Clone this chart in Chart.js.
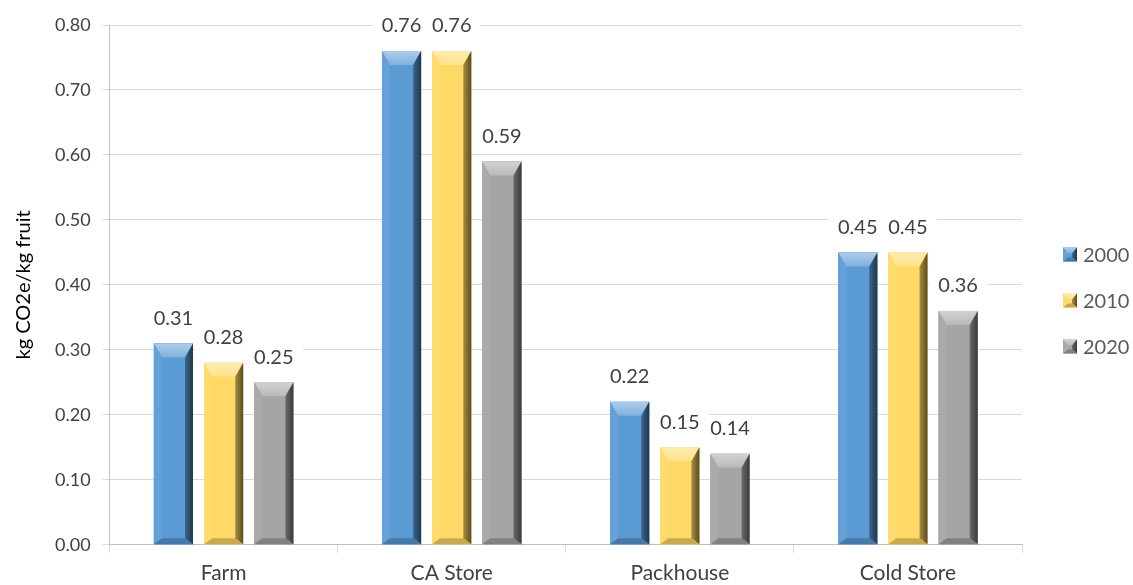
<!DOCTYPE html>
<html>
<head>
<meta charset="utf-8">
<script src="https://cdn.jsdelivr.net/npm/chart.js@4"></script>
<style>
    html, body { margin: 0; padding: 0; background: #ffffff; }
    #wrap { width: 1133px; height: 585px; }
</style>
</head>
<body>
<div id="wrap"><canvas id="co2-chart"></canvas></div>
<script>
const stages = ['Farm', 'CA Store', 'Packhouse', 'Cold Store']
const years = ['2000', '2010', '2020']
const values2000 = [0.31, 0.76, 0.22, 0.45]
const values2010 = [0.28, 0.76, 0.15, 0.45]
const values2020 = [0.25, 0.59, 0.14, 0.36]
const yMax = 0.8
const yStep = 0.1

const faceColors = ['#5b9bd5', '#ffd965', '#a5a5a5']
const fontFamily = "Lato, 'Open Sans', sans-serif"

// mix a hex colour toward white (f > 0) or black (f < 0)
function shade(hex, f) {
    const n = parseInt(hex.slice(1), 16)
    const mix = c => f >= 0 ? Math.round(c + (255 - c) * f) : Math.round(c * (1 + f))
    return `rgb(${mix(n >> 16)},${mix((n >> 8) & 255)},${mix(n & 255)})`
}

function poly(ctx, pts, fill) {
    ctx.beginPath()
    ctx.moveTo(pts[0][0], pts[0][1])
    for (let i = 1; i < pts.length; i++) ctx.lineTo(pts[i][0], pts[i][1])
    ctx.closePath()
    ctx.fillStyle = fill
    ctx.fill()
}

// angled bevel painted over a plain rectangle
function drawBevel(ctx, l, t, r, b, color, s, d, bd) {
    ctx.fillStyle = color
    ctx.fillRect(l, t, r - l, b - t)

    const top = ctx.createLinearGradient(0, t, 0, t + d)
    top.addColorStop(0, shade(color, 0.5))
    top.addColorStop(1, shade(color, 0.22))
    poly(ctx, [[l, t], [r, t], [r - s, t + d], [l + s, t + d]], top)

    poly(ctx, [[l, t], [l + s, t + d], [l + s, b - bd], [l, b]], shade(color, 0.06))

    const right = ctx.createLinearGradient(r - s, 0, r, 0)
    right.addColorStop(0, shade(color, -0.35))
    right.addColorStop(1, shade(color, -0.65))
    poly(ctx, [[r, t], [r, b], [r - s, b - bd], [r - s, t + d]], right)

    poly(ctx, [[l, b], [l + s, b - bd], [r - s, b - bd], [r, b]], shade(color, -0.22))
}

const bevelPlugin = {
    id: 'bevel',
    afterDatasetsDraw(chart) {
        const ctx = chart.ctx
        ctx.save()
        chart.data.datasets.forEach((ds, i) => {
            chart.getDatasetMeta(i).data.forEach(bar => {
                const { x, y, base, width } = bar.getProps(['x', 'y', 'base', 'width'], true)
                const h = base - y
                drawBevel(ctx, x - width / 2, y, x + width / 2, base, faceColors[i],
                    Math.min(8, width / 4), Math.min(14, h / 3), Math.min(6, h / 5))
            })
        })
        ctx.restore()
    }
}

const valueLabelPlugin = {
    id: 'valueLabels',
    afterDatasetsDraw(chart) {
        const ctx = chart.ctx
        ctx.save()
        ctx.font = `20px ${fontFamily}`
        ctx.textAlign = 'center'
        ctx.textBaseline = 'middle'
        chart.data.datasets.forEach((ds, i) => {
            chart.getDatasetMeta(i).data.forEach((bar, j) => {
                const text = ds.data[j].toFixed(2)
                const cy = bar.y - 25
                const w = ctx.measureText(text).width + 18
                ctx.fillStyle = '#ffffff'
                ctx.fillRect(bar.x - w / 2, cy - 12, w, 24)
                ctx.fillStyle = '#404040'
                ctx.fillText(text, bar.x, cy)
            })
        })
        ctx.restore()
    }
}

// legend at the right with small bevelled swatches
const sideLegendPlugin = {
    id: 'sideLegend',
    afterDraw(chart) {
        const ctx = chart.ctx
        const x = chart.chartArea.right + 41
        const midY = chart.height / 2 + 8
        ctx.save()
        ctx.font = `20px ${fontFamily}`
        ctx.textBaseline = 'middle'
        ctx.textAlign = 'left'
        chart.data.datasets.forEach((ds, i) => {
            const y = midY + (i - 1) * 46
            drawBevel(ctx, x, y - 7, x + 14, y + 7, faceColors[i], 5, 6, 4)
            ctx.fillStyle = '#595959'
            ctx.fillText(ds.label, x + 20, y + 1)
        })
        ctx.restore()
    }
}

const seriesValues = [values2000, values2010, values2020]

new Chart(document.getElementById('co2-chart'), {
    type: 'bar',
    data: {
        labels: stages,
        datasets: years.map((year, i) => ({
            label: year,
            data: seriesValues[i],
            backgroundColor: faceColors[i],
            borderWidth: 0,
            categoryPercentage: 0.66,
            barPercentage: 0.78
        }))
    },
    options: {
        responsive: true,
        maintainAspectRatio: false,
        animation: false,
        events: [],
        layout: {
            padding: { top: 25, right: 111, bottom: -9, left: 5 }
        },
        plugins: {
            legend: { display: false },
            tooltip: { enabled: false }
        },
        scales: {
            x: {
                grid: {
                    offset: true,
                    drawOnChartArea: false,
                    drawTicks: true,
                    tickLength: 8,
                    color: '#d9d9d9'
                },
                border: { color: '#bfbfbf' },
                ticks: {
                    color: '#404040',
                    padding: 8,
                    font: { size: 21, family: fontFamily }
                }
            },
            y: {
                min: 0,
                max: yMax,
                ticks: {
                    stepSize: yStep,
                    padding: 12,
                    color: '#404040',
                    font: { size: 18, family: fontFamily },
                    callback: v => v.toFixed(2)
                },
                grid: {
                    color: '#d9d9d9',
                    tickLength: 7
                },
                border: { color: '#bfbfbf' },
                title: {
                    display: true,
                    text: 'kg CO2e/kg fruit',
                    color: '#000000',
                    padding: 7,
                    font: { size: 20, family: fontFamily }
                }
            }
        }
    },
    plugins: [bevelPlugin, valueLabelPlugin, sideLegendPlugin]
})
</script>
</body>
</html>
